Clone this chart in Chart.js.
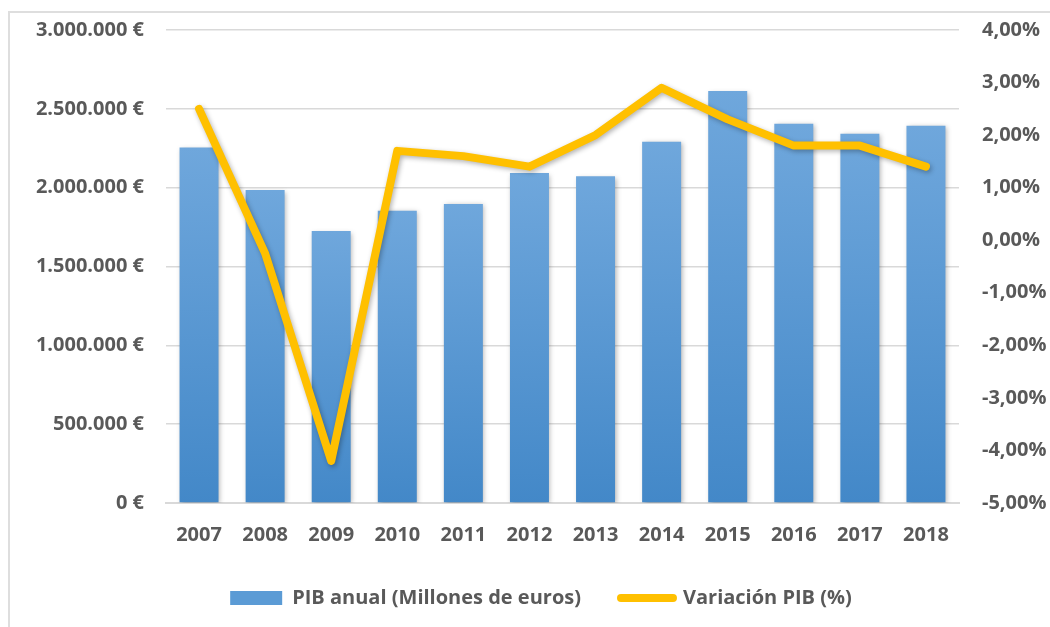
<!DOCTYPE html>
<html>
<head>
<meta charset="utf-8">
<script src="https://cdn.jsdelivr.net/npm/chart.js@4/dist/chart.umd.min.js"></script>
<style>
  html, body { margin: 0; padding: 0; background: #ffffff; }
  #wrap { position: relative; width: 1050px; height: 627px; overflow: hidden; }
  #frame { position: absolute; left: 8px; top: 11px; width: 1200px; height: 800px; border: 2px solid #dedede; box-sizing: border-box; }
  #c { position: absolute; left: 0; top: 0; }
</style>
</head>
<body>
<div id="wrap">
  <div id="frame"></div>
  <canvas id="c" width="1050" height="627"></canvas>
</div>
<script>
const years = ['2007','2008','2009','2010','2011','2012','2013','2014','2015','2016','2017','2018'];
const pibAnual = [2255000, 1985000, 1725000, 1853000, 1897000, 2093000, 2073000, 2291000, 2613000, 2405000, 2342000, 2393000];
const variacionPIB = [2.5, -0.25, -4.2, 1.7, 1.6, 1.4, 2.0, 2.9, 2.3, 1.8, 1.8, 1.4];
const leftTicksMin = 0, leftTicksMax = 3000000, leftStep = 500000;
const rightTicksMin = -5, rightTicksMax = 4, rightStep = 1;
const seriesNames = ['PIB anual (Millones de euros)', 'Variación PIB (%)'];

const FONT = '"Open Sans", "Liberation Sans", sans-serif';
const TXT = '#595959';

function fmtEuro(v) {
  const s = Math.round(v).toString().replace(/\B(?=(\d{3})+(?!\d))/g, '.');
  return s + ' €';
}
function fmtPct(v) {
  return v.toFixed(2).replace('.', ',') + '%';
}

function barGradient(context) {
  const chart = context.chart;
  const area = chart.chartArea;
  if (!area || context.type !== 'data') return '#5b9bd5';
  const ys = chart.scales.y;
  const v = context.dataset.data[context.dataIndex];
  const yTop = ys.getPixelForValue(v);
  const yBot = ys.getPixelForValue(0);
  const g = chart.ctx.createLinearGradient(0, yTop, 0, yBot);
  g.addColorStop(0, '#6fa7dc');
  g.addColorStop(1, '#4388c8');
  return g;
}

const shadowPlugin = {
  id: 'shadow',
  beforeDatasetDraw(chart, args) {
    const ctx = chart.ctx;
    ctx.save();
    ctx.shadowColor = 'rgba(0,0,0,0.30)';
    ctx.shadowBlur = 5;
    ctx.shadowOffsetX = 1.5;
    ctx.shadowOffsetY = args.meta.type === 'bar' ? 1.5 : 2;
  },
  afterDatasetDraw(chart) {
    chart.ctx.restore();
  }
};

const legendShift = {
  id: 'legendShift',
  afterLayout(chart) {
    if (chart.legend) {
      chart.legend.left += 16;
      chart.legend.right += 16;
    }
  }
};

function fitVertical(width) {
  return function (scale) {
    scale.width = width;
    scale.paddingTop = 4;
    scale.paddingBottom = 4;
  };
}

new Chart(document.getElementById('c'), {
  data: {
    labels: years,
    datasets: [
      {
        type: 'bar',
        label: seriesNames[0],
        data: pibAnual,
        yAxisID: 'y',
        backgroundColor: barGradient,
        borderWidth: 0,
        barPercentage: 0.59,
        categoryPercentage: 1.0,
        order: 1
      },
      {
        type: 'line',
        label: seriesNames[1],
        data: variacionPIB,
        yAxisID: 'y1',
        borderColor: '#ffc000',
        backgroundColor: '#ffc000',
        borderWidth: 8,
        pointRadius: 0,
        pointHoverRadius: 0,
        tension: 0,
        borderCapStyle: 'round',
        borderJoinStyle: 'round',
        fill: false,
        order: 0
      }
    ]
  },
  options: {
    responsive: false,
    animation: false,
    devicePixelRatio: 1,
    layout: { padding: { top: 30, left: 0, right: 0, bottom: 9 } },
    plugins: {
      tooltip: { enabled: false },
      legend: {
        position: 'bottom',
        labels: {
          font: { family: FONT, size: 20, weight: 'bold' },
          color: TXT,
          usePointStyle: true,
          pointStyleWidth: 52,
          boxHeight: 14,
          padding: 40,
          sort: (a, b) => a.datasetIndex - b.datasetIndex,
          generateLabels(chart) {
            return chart.data.datasets.map((ds, i) => {
              if (ds.type === 'bar') {
                return {
                  text: ds.label, datasetIndex: i, pointStyle: 'rect',
                  fillStyle: '#5b9bd5', strokeStyle: '#5b9bd5', lineWidth: 0,
                  fontColor: TXT
                };
              }
              return {
                text: ds.label, datasetIndex: i, pointStyle: 'line',
                fillStyle: '#ffc000', strokeStyle: '#ffc000', lineWidth: 8,
                lineCap: 'round', fontColor: TXT
              };
            });
          }
        }
      }
    },
    scales: {
      x: {
        grid: { display: false, drawTicks: false },
        border: { display: true, color: '#d9d9d9', width: 2 },
        ticks: { font: { family: FONT, size: 20, weight: 'bold' }, color: TXT, padding: 20, maxRotation: 0 },
        afterFit(scale) { scale.height = 45; }
      },
      y: {
        position: 'left',
        min: leftTicksMin, max: leftTicksMax,
        ticks: {
          stepSize: leftStep,
          font: { family: FONT, size: 20, weight: 'bold' }, color: TXT, padding: 22,
          callback: (v) => fmtEuro(v)
        },
        grid: { color: '#d9d9d9', lineWidth: 1.5, drawTicks: false },
        border: { display: false },
        afterFit: fitVertical(166)
      },
      y1: {
        position: 'right',
        min: rightTicksMin, max: rightTicksMax,
        ticks: {
          stepSize: rightStep,
          font: { family: FONT, size: 20, weight: 'bold' }, color: TXT, padding: 23,
          callback: (v) => fmtPct(v)
        },
        grid: { display: false, drawTicks: false },
        border: { display: false },
        afterFit: fitVertical(91)
      }
    }
  },
  plugins: [shadowPlugin, legendShift]
});
</script>
</body>
</html>
